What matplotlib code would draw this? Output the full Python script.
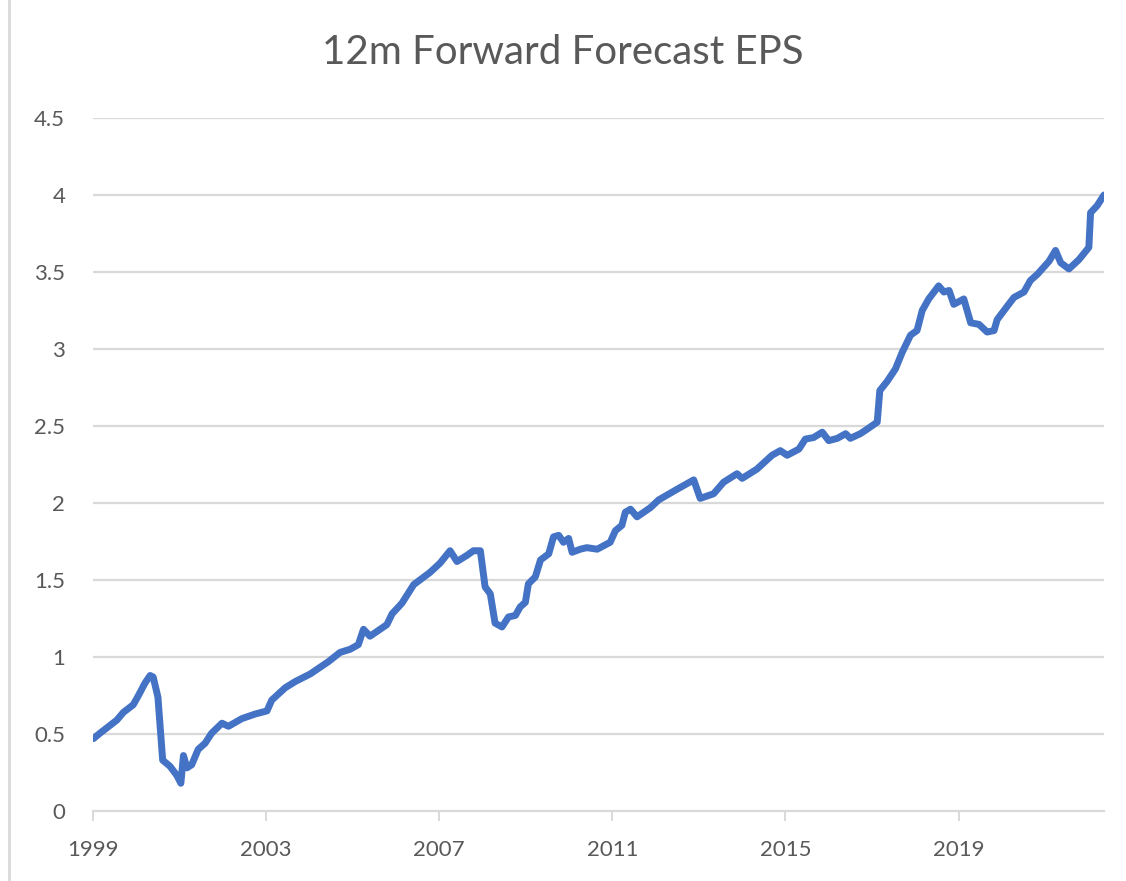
"""
12m forward forecast EPS, Excel-style line chart recreation.
"""
import matplotlib
matplotlib.use('Agg')
import matplotlib.pyplot as plt
from matplotlib.lines import Line2D

plt.rcParams['font.family'] = ['Lato', 'DejaVu Sans']

# decimal year and EPS value
years = [
    1999.01, 1999.16, 1999.55, 1999.70, 1999.93, 2000.05, 2000.20, 2000.32,
    2000.39, 2000.50, 2000.61, 2000.78, 2000.94, 2001.03, 2001.09, 2001.17,
    2001.28, 2001.43, 2001.59, 2001.74, 2001.98, 2002.13, 2002.44, 2002.75,
    2003.02, 2003.13, 2003.44, 2003.67, 2004.02, 2004.44, 2004.71, 2004.94,
    2005.13, 2005.25, 2005.40, 2005.79, 2005.91, 2006.14, 2006.41, 2006.79,
    2007.02, 2007.25, 2007.41, 2007.64, 2007.79, 2007.95, 2008.06, 2008.18,
    2008.29, 2008.45, 2008.60, 2008.76, 2008.87, 2008.99, 2009.06, 2009.22,
    2009.34, 2009.53, 2009.64, 2009.76, 2009.87, 2009.99, 2010.07, 2010.26,
    2010.41, 2010.65, 2010.95, 2011.07, 2011.22, 2011.30, 2011.42, 2011.57,
    2011.88, 2012.07, 2012.50, 2012.88, 2013.03, 2013.34, 2013.57, 2013.88,
    2014.00, 2014.34, 2014.69, 2014.88, 2015.04, 2015.31, 2015.46, 2015.65,
    2015.85, 2016.00, 2016.20, 2016.39, 2016.50, 2016.73, 2016.89, 2017.12,
    2017.18, 2017.35, 2017.54, 2017.70, 2017.89, 2018.04, 2018.16, 2018.31,
    2018.54, 2018.66, 2018.78, 2018.89, 2019.12, 2019.28, 2019.47, 2019.66,
    2019.82, 2019.89, 2020.13, 2020.28, 2020.51, 2020.66, 2020.82, 2021.09,
    2021.24, 2021.36, 2021.55, 2021.78, 2022.01, 2022.05, 2022.20, 2022.36,
]
eps = [
    0.47, 0.505, 0.59, 0.64, 0.69, 0.75, 0.83, 0.88,
    0.87, 0.74, 0.33, 0.29, 0.23, 0.18, 0.36, 0.28,
    0.30, 0.40, 0.44, 0.505, 0.57, 0.55, 0.60, 0.63,
    0.65, 0.72, 0.80, 0.84, 0.89, 0.97, 1.03, 1.05,
    1.08, 1.18, 1.135, 1.21, 1.28, 1.35, 1.47, 1.55,
    1.61, 1.69, 1.62, 1.66, 1.69, 1.69, 1.455, 1.41,
    1.22, 1.195, 1.26, 1.27, 1.325, 1.355, 1.475, 1.52,
    1.63, 1.67, 1.78, 1.79, 1.745, 1.77, 1.68, 1.70,
    1.71, 1.70, 1.745, 1.82, 1.855, 1.94, 1.96, 1.91,
    1.97, 2.02, 2.09, 2.15, 2.03, 2.06, 2.135, 2.19,
    2.16, 2.22, 2.31, 2.34, 2.31, 2.35, 2.415, 2.425,
    2.46, 2.405, 2.42, 2.45, 2.42, 2.45, 2.48, 2.525,
    2.73, 2.79, 2.87, 2.98, 3.09, 3.12, 3.25, 3.325,
    3.41, 3.37, 3.38, 3.29, 3.325, 3.17, 3.16, 3.11,
    3.12, 3.19, 3.28, 3.335, 3.37, 3.445, 3.485, 3.57,
    3.64, 3.56, 3.52, 3.58, 3.66, 3.885, 3.93, 4.00,
]
x_ticks = [1999, 2003, 2007, 2011, 2015, 2019]
y_ticks = [0, 0.5, 1, 1.5, 2, 2.5, 3, 3.5, 4, 4.5]
y_labels = ['0', '0.5', '1', '1.5', '2', '2.5', '3', '3.5', '4', '4.5']

BLUE = '#4472C4'
GRID = '#D9D9D9'
TEXT = '#595959'

fig = plt.figure(figsize=(11.26, 8.81), dpi=100)
ax = fig.add_axes([93 / 1126, 70 / 881, 1011 / 1126, 693 / 881])

for y in y_ticks[1:]:
    ax.axhline(y, color=GRID, lw=1.6, zorder=1)

ax.plot(years, eps, color=BLUE, lw=5, solid_joinstyle='round',
        solid_capstyle='round', zorder=3)

ax.set_xlim(1999, 2022.36)
ax.set_ylim(0, 4.5)
ax.set_yticks(y_ticks, y_labels)
ax.set_xticks(x_ticks, [str(t) for t in x_ticks])

for s in ['top', 'right', 'left']:
    ax.spines[s].set_visible(False)
ax.spines['bottom'].set_color(GRID)
ax.spines['bottom'].set_linewidth(1.6)

ax.tick_params(axis='y', length=0, pad=20, labelsize=16, labelcolor=TEXT)
ax.tick_params(axis='x', length=7, width=1.4, color=GRID, pad=14,
               labelsize=16, labelcolor=TEXT)

fig.text(0.5, 1 - 52 / 881, '12m Forward Forecast EPS', ha='center',
         va='center', fontsize=29, color=TEXT)

# chart-area border on the left edge
fig.add_artist(Line2D([9 / 1126, 9 / 1126], [0, 1], transform=fig.transFigure,
                      color=GRID, lw=2))

fig.savefig('out.png', dpi=100)
